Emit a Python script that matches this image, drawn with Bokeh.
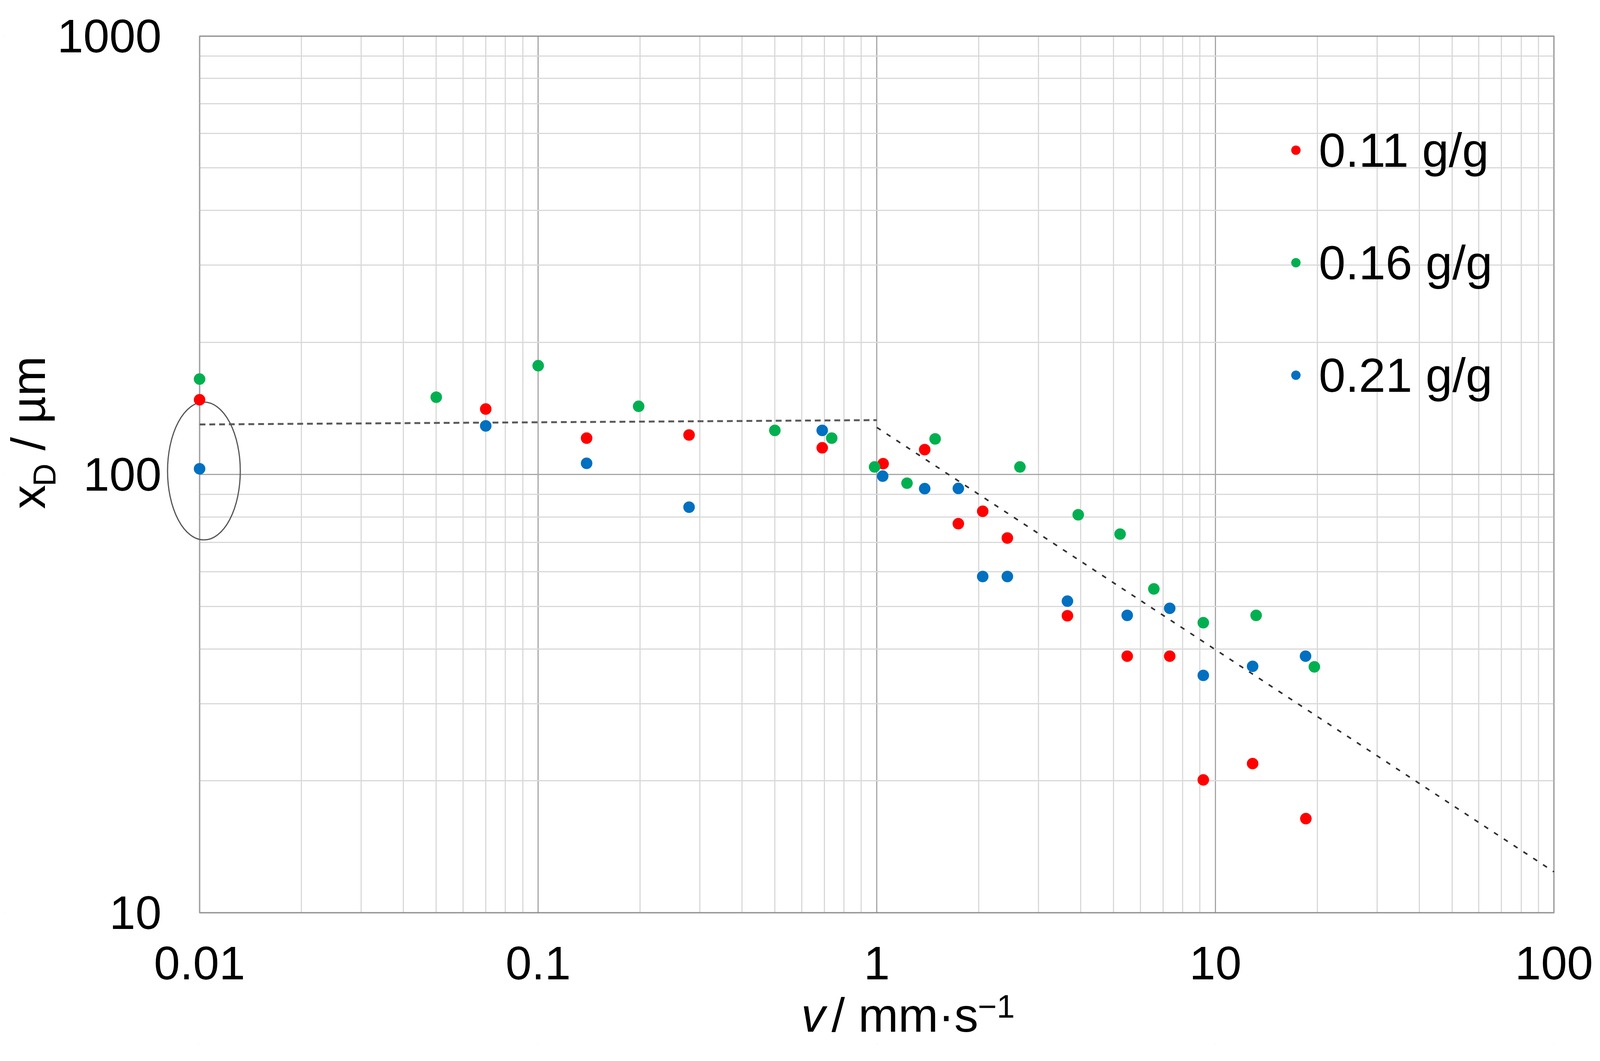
import math
from bokeh.plotting import figure
from bokeh.models import (FixedTicker, Label, Legend, LegendItem, Range1d, BoxAnnotation, LinearScale)
from bokeh.embed import file_html
from bokeh.resources import INLINE

# ---------------- data ----------------
series_names = ["0.11 g/g", "0.16 g/g", "0.21 g/g"]
series_colors = ["#FF0000", "#00B050", "#0070C0"]

red_x = [0.01, 0.07, 0.139, 0.279, 0.69, 1.044, 1.385, 1.741, 2.055, 2.43, 3.656, 5.49, 7.33, 9.21, 12.88, 18.5]
red_y = [148, 141, 121, 123, 115, 105.8, 113.9, 77.2, 82.4, 71.6, 47.6, 38.5, 38.5, 20.1, 21.9, 16.4]

green_x = [0.01, 0.05, 0.1, 0.198, 0.50, 0.736, 0.985, 1.228, 1.487, 2.647, 3.934, 5.23, 6.58, 9.21, 13.19, 19.6]
green_y = [165, 150, 177, 143, 126, 121, 104, 95.5, 120.5, 104, 80.9, 73.1, 54.8, 45.9, 47.7, 36.4]

blue_x = [0.01, 0.07, 0.139, 0.279, 0.69, 1.041, 1.385, 1.741, 2.055, 2.43, 3.656, 5.49, 7.33, 9.21, 12.88, 18.46]
blue_y = [103, 129, 106, 84.2, 126, 99.1, 92.8, 92.9, 58.5, 58.5, 51.4, 47.7, 49.5, 34.8, 36.5, 38.5]

trend_flat_x = [0.01, 1.0]
trend_flat_y = [130, 133]
trend_slope_x = [1.0, 100]
trend_slope_y = [128, 12.4]

x_min, x_max = 0.01, 100
y_min, y_max = 10, 1000
x_ticks = [0.01, 0.1, 1, 10, 100]
x_tick_labels = ["0.01", "0.1", "1", "10", "100"]
y_ticks = [10, 100, 1000]
y_tick_labels = ["10", "100", "1000"]

FONT = "Liberation Sans"

# ---------------- geometry (CSS px of the page) ----------------
S = 4096.0 / 4157.0


def c(v):
    return v * S


FL, FT, FR, FB = 12, 82, 3988, 2672          # frame edges on the page
FRAME_W, FRAME_H = FR - FL, FB - FT
box_l, box_r, box_t, box_b = c(518), c(4037), c(93), c(2371)
dec_x = (box_r - box_l) / (math.log10(x_max) - math.log10(x_min))
dec_y = (box_b - box_t) / (math.log10(y_max) - math.log10(y_min))

xr = Range1d(10 ** (math.log10(x_min) - (box_l - FL) / dec_x),
             10 ** (math.log10(x_max) + (FR - box_r) / dec_x))
yr = Range1d(10 ** (math.log10(y_min) - (FB - box_b) / dec_y),
             10 ** (math.log10(y_max) + (box_t - FT) / dec_y))

p = figure(frame_width=FRAME_W, frame_height=FRAME_H, x_axis_type="log", y_axis_type="log",
           x_range=xr, y_range=yr, output_backend="svg", toolbar_location=None,
           min_border_left=FL, min_border_right=100, min_border_top=FT, min_border_bottom=2)
p.extra_x_ranges = {"px": Range1d(0, FRAME_W)}
p.extra_y_ranges = {"px": Range1d(0, FRAME_H)}
p.extra_x_scales = {"px": LinearScale()}
p.extra_y_scales = {"px": LinearScale()}
p.background_fill_color = "white"
p.border_fill_color = "white"
p.outline_line_color = None


def fx(r):
    return c(r) - FL


def fy(r):
    return FB - c(r)


x_minor = [k * 10.0 ** e for e in range(-2, 2) for k in range(2, 10)]
y_minor = [k * 10.0 ** e for e in range(1, 3) for k in range(2, 10)]
p.xaxis.ticker = FixedTicker(ticks=x_ticks, minor_ticks=x_minor)
p.yaxis.ticker = FixedTicker(ticks=y_ticks, minor_ticks=y_minor)
p.xaxis.major_label_overrides = {t: l for t, l in zip(x_ticks, x_tick_labels)}
p.yaxis.major_label_overrides = {t: l for t, l in zip(y_ticks, y_tick_labels)}

for ax in (p.xaxis, p.yaxis):
    ax.axis_line_color = None
    ax.major_tick_line_color = None
    ax.minor_tick_line_color = None
    ax.major_tick_out = 0
    ax.major_tick_in = 0
    ax.minor_tick_out = 0
    ax.minor_tick_in = 0
    ax.major_label_text_font = FONT
    ax.major_label_text_font_size = "120px"
    ax.major_label_text_color = "black"
# tick labels pulled in next to the plot box
p.yaxis.major_label_standoff = int(round(FL - 6 - c(413)))
p.xaxis.major_label_standoff = int(round(c(2508) - FB - 48))

for g in (p.xgrid, p.ygrid):
    g.grid_line_color = "#a6a6a6"
    g.grid_line_width = 3
    g.minor_grid_line_color = "#d9d9d9"
    g.minor_grid_line_width = 3

# white masks over grid lines outside the plot box
for kw in (dict(right=x_min), dict(left=x_max), dict(top=y_min), dict(bottom=y_max)):
    p.add_layout(BoxAnnotation(fill_color="white", fill_alpha=1.0, line_color=None,
                               level="underlay", **kw))
# plot box border
p.add_layout(BoxAnnotation(left=x_min, right=x_max, bottom=y_min, top=y_max,
                           fill_alpha=0, line_color="#262626", line_width=4, level="underlay"))

# trend lines
p.line(trend_flat_x, trend_flat_y, line_color="#5a5a5a", line_width=5, line_dash="15 10")
p.line(trend_slope_x, trend_slope_y, line_color="#303030", line_width=4, line_dash="12 18")

# ellipse around the v = 0.01 points
p.ellipse(x=[0.0103], y=[101.8], width=c(189), height=c(358),
          width_units="screen", height_units="screen",
          fill_color=None, line_color="#555555", line_width=3)

renderers = []
for xs, ys, col in [(red_x, red_y, series_colors[0]),
                    (green_x, green_y, series_colors[1]),
                    (blue_x, blue_y, series_colors[2])]:
    r = p.scatter(xs, ys, size=c(30), fill_color=col, line_color=col, line_width=0)
    renderers.append(r)

GW = 60
ITEM_H = int(round(c(292)))
leg_left = c(3366) - GW / 2
leg_top = c(390) - ITEM_H / 2
legend = Legend(items=[LegendItem(label=n, renderers=[r]) for n, r in zip(series_names, renderers)],
                location=(int(round(leg_left - FL)), int(round(FB - (leg_top + 3 * ITEM_H)))),
                orientation="vertical",
                glyph_width=GW, glyph_height=ITEM_H, spacing=0, padding=0, margin=0,
                label_standoff=int(round(c(3431) - (leg_left + GW) - 5)),
                label_text_font=FONT, label_text_font_size="123px",
                label_text_color="black", label_text_baseline="middle",
                border_line_color=None, background_fill_alpha=0)
p.add_layout(legend)

DROP = 0.33   # baseline correction (fraction of font size)


def title_label(x, y, text, size, angle=0.0, style="normal"):
    if angle == 0.0:
        y = y + DROP * size
    else:
        x = x - DROP * size
    p.add_layout(Label(x=x, y=y, x_range_name="px", y_range_name="px", text=text, angle=angle,
                       text_font=FONT, text_font_size="%dpx" % size, text_font_style=style,
                       text_align="left", text_baseline="alphabetic", text_color="black"))


# y axis title: x_D / µm
title_label(fx(114), fy(1322), "x", 123, math.pi / 2)
title_label(fx(142), fy(1263), "D", 81, math.pi / 2)
title_label(fx(114), fy(1170), "/ µm", 123, math.pi / 2)
# x axis title: v / mm·s⁻¹
title_label(fx(2081), fy(2678), "v", 123, 0.0, "italic")
title_label(fx(2160), fy(2678), "/ mm·s", 123)
title_label(fx(2540), fy(2642), "−1", 83)

open("out.html", "w").write(file_html(p, INLINE))
